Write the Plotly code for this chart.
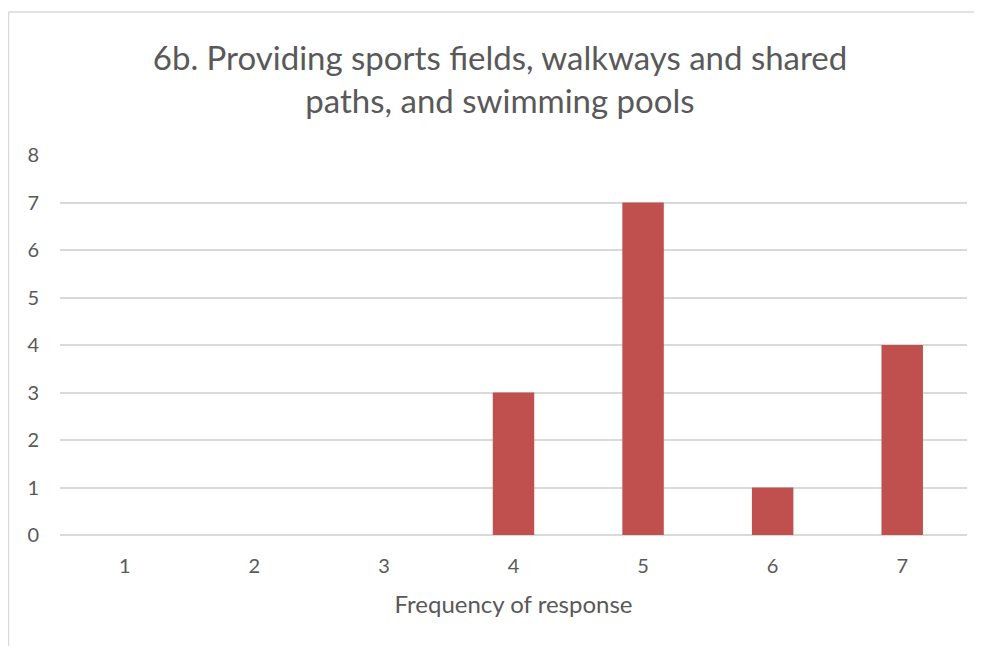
import plotly.graph_objects as go

categories = ["1", "2", "3", "4", "5", "6", "7"]
counts = [0, 0, 0, 3, 7, 1, 4]
y_ticks = [0, 1, 2, 3, 4, 5, 6, 7, 8]

title_text = "6b. Providing sports fields, walkways and shared<br>paths, and swimming pools"
x_title = "Frequency of response"

# the page body adds an 8px margin, so the figure is a bit smaller than the window
W, H = 974, 638
ml, mr, mt, mb = 52, 15, 147, 111
pw, ph = W - ml - mr, H - mt - mb

font_family = "Lato, 'Open Sans', sans-serif"
text_color = "#595959"
grid_color = "#D9D9D9"

fig = go.Figure()
fig.add_trace(go.Bar(
    x=categories,
    y=counts,
    marker=dict(color="#C0504D", line=dict(width=0)),
    hoverinfo="x+y",
))

# chart border (only top and left edges are visible)
def px_x(v):
    return (v - ml) / pw

def px_y(v):
    return (H - mb - v) / ph

border = dict(color=grid_color, width=1.5)
fig.add_shape(type="line", xref="paper", yref="paper",
              x0=px_x(0.5), x1=px_x(W + 10), y0=px_y(4), y1=px_y(4), line=border)
fig.add_shape(type="line", xref="paper", yref="paper",
              x0=px_x(0.5), x1=px_x(0.5), y0=px_y(4), y1=px_y(H + 10), line=border)

fig.update_layout(
    width=W, height=H,
    margin=dict(l=ml, r=mr, t=mt, b=mb),
    paper_bgcolor="white",
    plot_bgcolor="white",
    bargap=0.68,
    showlegend=False,
    font=dict(family=font_family, color=text_color, size=20),
    title=dict(
        text=title_text,
        x=492 / W, xanchor="center",
        y=1 - 62 / H, yanchor="top",
        font=dict(size=33, color=text_color, family=font_family),
    ),
)

fig.update_xaxes(
    type="category",
    showgrid=False,
    showline=False,
    ticks="",
    ticklabelstandoff=17,
    tickfont=dict(size=20, color=text_color),
    title=dict(text=x_title, font=dict(size=24, color=text_color), standoff=20),
)

fig.update_yaxes(
    range=[0, 8],
    tickvals=y_ticks,
    showgrid=True,
    gridcolor=grid_color,
    gridwidth=1.5,
    zeroline=True,
    zerolinecolor=grid_color,
    zerolinewidth=1.5,
    showline=False,
    ticks="",
    ticklabelstandoff=20,
    tickfont=dict(size=20, color=text_color),
)

fig.write_html("out.html")
